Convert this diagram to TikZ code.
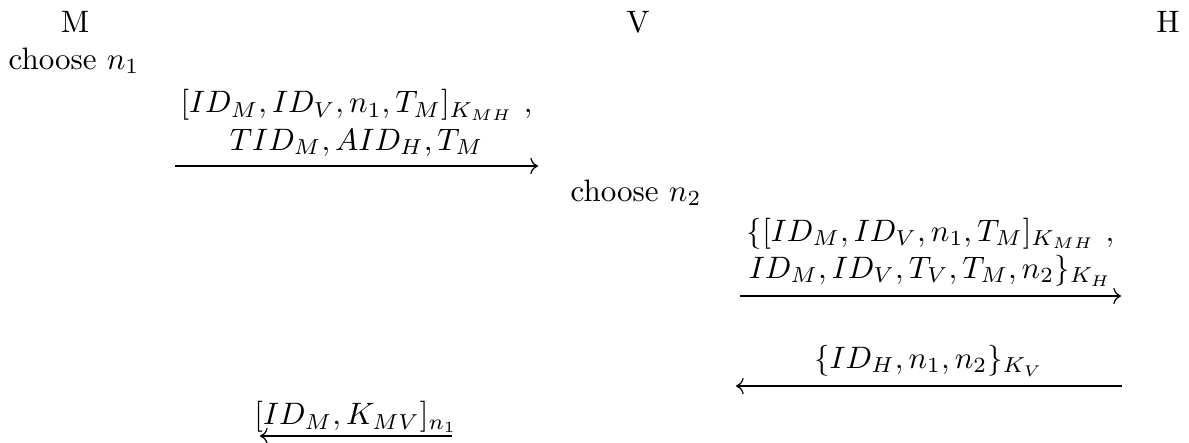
\documentclass[tikz,border=0pt]{standalone}
\usepackage{amsmath}
\usetikzlibrary{arrows.meta,positioning,calc}

\begin{document}
\begin{tikzpicture}[>=To,x=0.3226pt,y=-0.3226pt,
  hd/.style={anchor=base,inner sep=0pt},
  act/.style={anchor=base,inner sep=0pt},
  lbl/.style={above=3pt,inner sep=0pt,align=center}]
\useasboundingbox (0,0) rectangle (1189,442);
\foreach \p/\x in {M/75,V/638,H/1168}
  \node[hd] (\p) at (\x,32) {\p};
\node[act] (chM) at (74,69) {choose $n_1$};
\node[act] (chV) at (636,201) {choose $n_2$};
% message ends
\coordinate (m1a) at (175,166);  \coordinate (m1b) at (538,166);
\coordinate (m2a) at (740,296);  \coordinate (m2b) at (1121,296);
\coordinate (m3a) at (736,386);  \coordinate (m3b) at (1122,386);
\coordinate (m4a) at (260,436);  \coordinate (m4b) at (452,436);
\draw[->] (m1a) -- node[lbl] {$[ID_M, ID_V, n_1, T_M]_{K_{MH}}\ ,$\\ $TID_M, AID_H, T_M$} (m1b);
\draw[->] (m2a) -- node[lbl] {$\{[ID_M, ID_V, n_1, T_M]_{K_{MH}}\ ,$\\ $ID_M, ID_V, T_V, T_M, n_2\}_{K_H}$} (m2b);
\draw[<-] (m3a) -- node[lbl] {$\{ID_H, n_1, n_2\}_{K_V}$} (m3b);
\draw[<-] (m4a) -- node[lbl,above=1pt] {$[ID_M, K_{MV}]_{n_1}$} (m4b);
\end{tikzpicture}
\end{document}
